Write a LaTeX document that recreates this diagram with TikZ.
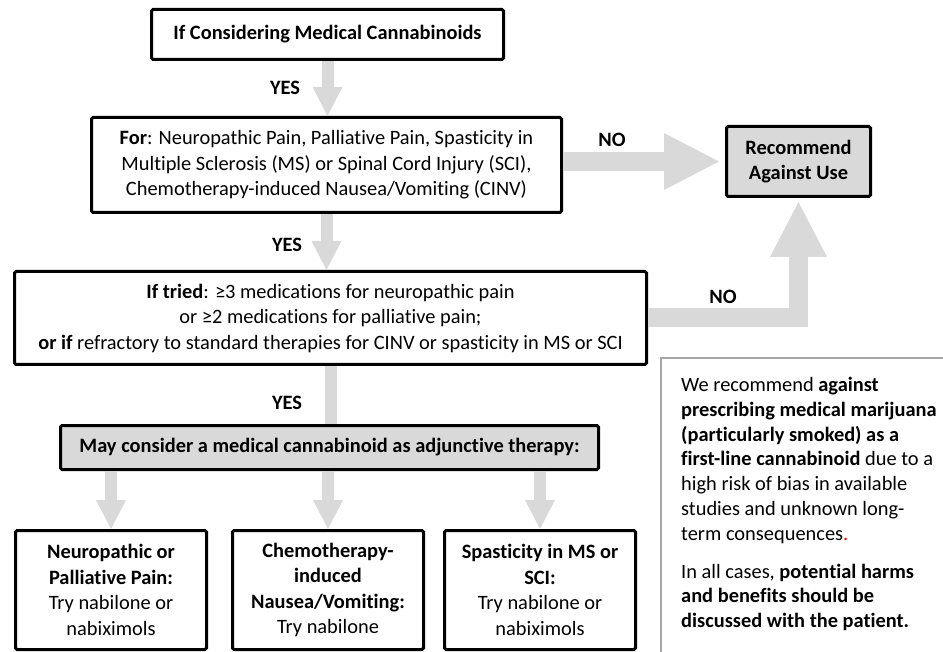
\documentclass[tikz,border=0pt]{standalone}
\usepackage{fontspec}
\setmainfont{Carlito}[Ligatures=NoCommon]
\usetikzlibrary{arrows.meta}

\definecolor{arrowgray}{HTML}{D9D9D9}
\definecolor{boxgray}{HTML}{D9D9D9}
\definecolor{notegray}{HTML}{A6A6A6}
\newcommand{\boxfont}{\fontsize{20.4}{25.5}\selectfont}
\newcommand{\notefont}{\fontsize{20.4}{24.8}\selectfont}

\begin{document}
\begin{tikzpicture}[x=1pt,y=-1pt,
	stepbox/.style={draw, line width=3pt, rounded corners=1.5pt, align=center, font=\boxfont, inner sep=0pt},
	graybox/.style={stepbox, fill=boxgray},
	thinarrow/.style={draw=arrowgray, line width=12pt, -{Triangle[width=30pt,length=29pt,line width=0pt]}},
	widearrow/.style={draw=arrowgray, line width=19pt, line join=miter, -{Triangle[width=57pt,length=55pt,line width=0pt]}},
	answer/.style={font=\boxfont\bfseries}]
	\useasboundingbox (0,0) rectangle (943,652);

	% decision boxes
	\node[stepbox, minimum width=352pt, minimum height=50pt] (consider) at (327.5,34.5) {\textbf{If Considering Medical Cannabinoids}};
	\node[stepbox, minimum width=470pt, minimum height=95pt] (indication) at (326.5,165) {\textbf{For}: Neuropathic Pain, Palliative Pain, Spasticity in\\ Multiple Sclerosis (MS) or Spinal Cord Injury (SCI),\\ Chemotherapy-induced Nausea/Vomiting (CINV)};
	\node[stepbox, minimum width=632pt, minimum height=93pt] (tried) at (330.5,318) {\textbf{If tried}: ≥3 medications for neuropathic pain\\ or ≥2 medications for palliative pain;\\ \textbf{or if} refractory to standard therapies for CINV or spasticity in MS or SCI};
	\node[graybox, minimum width=144pt, minimum height=70pt] (against) at (798.5,161.5) {\textbf{Recommend}\\ \textbf{Against Use}};
	\node[graybox, minimum width=538pt, minimum height=44pt] (adjunct) at (329.5,447.5) {\textbf{May consider a medical cannabinoid as adjunctive therapy:}};

	% treatment boxes
	\node[stepbox, minimum width=191pt, minimum height=119pt] (painbox) at (111,590) {\textbf{Neuropathic or}\\ \textbf{Palliative Pain:}\\ Try nabilone or\\ nabiximols};
	\node[stepbox, minimum width=191pt, minimum height=119pt] (nauseabox) at (328,590) {\textbf{Chemotherapy-}\\ \textbf{induced}\\ \textbf{Nausea/Vomiting:}\\ Try nabilone};
	\node[stepbox, minimum width=191pt, minimum height=119pt] (spasmbox) at (540,590) {\textbf{Spasticity in MS or}\\ \textbf{SCI:}\\ Try nabilone or\\ nabiximols};

	% arrows
	\draw[thinarrow] (consider.south) -- (consider.south |- indication.north);
	\draw[thinarrow] (indication.south) -- (indication.south |- tried.north);
	\draw[arrowgray, line width=12pt] (tried.south) -- (tried.south |- adjunct.north);
	\foreach \b in {painbox, nauseabox, spasmbox}
		\draw[thinarrow] (\b.north |- adjunct.south) -- (\b.north);
	\draw[widearrow, shorten >=6pt] (indication.east |- against.west) -- (against.west);
	\draw[widearrow, shorten >=4pt] (tried.east) -| (against.south);

	% answers
	\node[answer] (yesone) at (285,88) {YES};
	\node[answer] (yestwo) at (287,245) {YES};
	\node[answer] (yesthree) at (287,403) {YES};
	\node[answer] (noone) at (612,140) {NO};
	\node[answer] (notwo) at (723,297) {NO};

	% note
	\draw[notegray, line width=2.5pt] (661,652) -- (661,358) -- (943,358);
	\node[anchor=north west, align=left, font=\notefont, inner sep=0pt] (note) at (681,377) {We recommend \textbf{against}\\ \textbf{prescribing medical marijuana}\\ \textbf{(particularly smoked) as a}\\ \textbf{first-line cannabinoid} due to a\\ high risk of bias in available\\ studies and unknown long-\\ term consequences\textcolor{red}{.}\\[13pt] In all cases, \textbf{potential harms}\\ \textbf{and benefits should be}\\ \textbf{discussed with the patient.}};
\end{tikzpicture}
\end{document}
